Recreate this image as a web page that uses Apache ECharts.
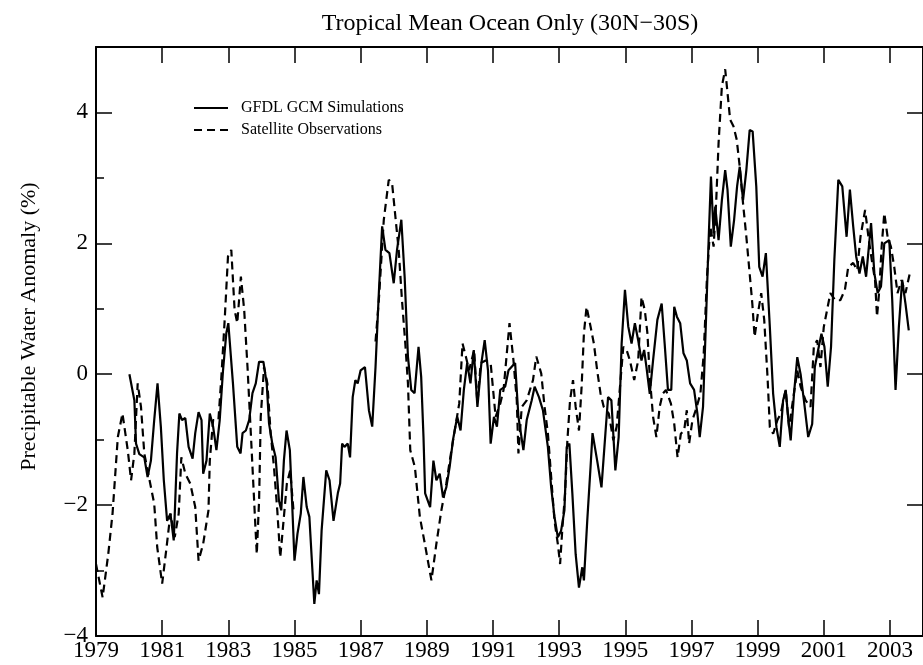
<!DOCTYPE html>
<html>
<head>
<meta charset="utf-8">
<script src="https://cdn.jsdelivr.net/npm/echarts@6/dist/echarts.min.js"></script>
<style>
html,body{margin:0;padding:0;background:#fff;}
#chart{width:923px;height:665px;}
</style>
</head>
<body>
<div id="chart"></div>
<script>
// Tick labels
var xTickYears = [1979,1981,1983,1985,1987,1989,1991,1993,1995,1997,1999,2001,2003];
var yTickValues = [-4,-2,0,2,4];
var seriesNames = ['GFDL GCM Simulations','Satellite Observations'];

// GFDL GCM Simulations (solid)
var simYears = [1980.01,1980.16,1980.21,1980.31,1980.46,1980.56,1980.66,1980.76,1980.86,1980.96,
1981.05,1981.15,1981.25,1981.35,1981.45,1981.52,1981.6,1981.7,1981.8,1981.92,
1982.0,1982.1,1982.19,1982.24,1982.34,1982.44,1982.54,1982.64,1982.74,1982.84,1982.94,
1983.0,1983.14,1983.27,1983.37,1983.43,1983.53,1983.63,1983.73,1983.83,1983.93,
1984.06,1984.16,1984.23,1984.33,1984.43,1984.53,1984.6,1984.68,1984.76,1984.86,1984.93,
1985.0,1985.09,1985.19,1985.27,1985.37,1985.45,1985.52,1985.6,1985.67,1985.74,1985.82,1985.96,
1986.06,1986.18,1986.31,1986.38,1986.44,1986.51,1986.61,1986.68,1986.76,1986.84,1986.91,
1987.0,1987.13,1987.25,1987.35,1987.45,1987.55,1987.65,1987.75,1987.87,
1988.0,1988.1,1988.23,1988.33,1988.43,1988.53,1988.63,1988.75,1988.83,1988.9,1988.95,
1989.1,1989.2,1989.29,1989.39,1989.49,1989.59,1989.69,1989.79,1989.92,
1990.02,1990.12,1990.22,1990.32,1990.42,1990.53,1990.65,1990.75,1990.85,1990.93,
1991.03,1991.12,1991.22,1991.37,1991.47,1991.67,1991.77,1991.92,
1992.02,1992.17,1992.26,1992.39,1992.51,1992.66,1992.76,1992.86,1992.96,
1993.06,1993.16,1993.23,1993.31,1993.4,1993.5,1993.6,1993.7,1993.75,1993.85,1993.95,
1994.01,1994.15,1994.28,1994.4,1994.48,1994.58,1994.7,1994.8,1994.89,1994.99,
1995.09,1995.19,1995.29,1995.39,1995.49,1995.57,1995.64,1995.74,1995.84,1995.97,
1996.1,1996.19,1996.29,1996.39,1996.48,1996.56,1996.66,1996.76,1996.86,1996.96,
1997.08,1997.18,1997.25,1997.35,1997.45,1997.52,1997.59,1997.67,1997.72,1997.82,1997.92,
1998.02,1998.09,1998.19,1998.29,1998.38,1998.46,1998.56,1998.66,1998.76,1998.85,1998.96,
1999.05,1999.15,1999.25,1999.37,1999.47,1999.57,1999.67,1999.77,1999.85,1999.93,
2000.0,2000.1,2000.2,2000.3,2000.4,2000.53,2000.65,2000.73,2000.83,2000.93,
2001.02,2001.12,2001.22,2001.32,2001.44,2001.56,2001.69,2001.79,2001.89,2001.98,
2002.08,2002.18,2002.28,2002.43,2002.53,2002.63,2002.73,2002.83,2002.98,
2003.07,2003.17,2003.27,2003.37,2003.47,2003.57];
var simValues = [0.0,-0.4,-1.06,-1.22,-1.27,-1.57,-1.32,-0.7,-0.14,-0.8,
-1.62,-2.24,-2.13,-2.54,-1.21,-0.6,-0.7,-0.67,-1.11,-1.29,
-0.9,-0.58,-0.7,-1.52,-1.32,-0.6,-0.8,-1.16,-0.7,0.06,0.63,
0.78,-0.14,-1.11,-1.21,-0.9,-0.86,-0.7,-0.29,-0.14,0.19,
0.19,-0.14,-0.75,-1.06,-1.27,-1.93,-2.08,-1.32,-0.86,-1.16,-1.98,
-2.85,-2.44,-2.13,-1.57,-2.03,-2.18,-2.8,-3.51,-3.15,-3.36,-2.39,-1.47,
-1.62,-2.24,-1.82,-1.67,-1.06,-1.11,-1.06,-1.27,-0.35,-0.09,-0.14,
0.06,0.11,-0.55,-0.8,0.11,1.24,2.26,1.9,1.85,
1.39,1.9,2.36,1.49,0.27,-0.24,-0.29,0.42,-0.04,-0.96,-1.82,
-2.03,-1.32,-1.62,-1.52,-1.88,-1.73,-1.42,-1.01,-0.65,
-0.86,-0.24,0.17,-0.14,0.37,-0.5,0.17,0.52,0.06,-1.06,
-0.65,-0.8,-0.24,-0.19,0.06,0.17,-0.65,-1.16,
-0.7,-0.4,-0.19,-0.35,-0.55,-1.11,-1.73,-2.18,-2.49,
-2.39,-2.08,-1.11,-1.06,-1.82,-2.75,-3.26,-2.95,-3.15,-2.24,-1.42,
-0.9,-1.32,-1.73,-0.9,-0.35,-0.4,-1.47,-0.96,0.47,1.29,
0.73,0.47,0.78,0.52,0.21,0.37,0.11,-0.3,0.21,0.83,
1.08,0.47,-0.24,-0.24,1.03,0.88,0.78,0.32,0.21,-0.14,
-0.24,-0.6,-0.96,-0.5,0.98,2.05,3.02,2.15,2.56,2.05,2.66,
3.12,2.82,1.95,2.36,2.87,3.17,2.66,3.12,3.73,3.71,2.87,
1.64,1.49,1.85,0.72,-0.3,-0.81,-1.11,-0.4,-0.24,-0.7,
-1.01,-0.3,0.26,0.0,-0.4,-0.96,-0.76,0.11,0.37,0.62,
0.42,-0.19,0.42,1.75,2.97,2.87,2.1,2.82,2.26,1.8,
1.54,1.8,1.49,2.31,1.54,1.24,1.34,2.0,2.05,
1.13,-0.24,0.72,1.44,1.08,0.67];

// Satellite Observations (dashed); null marks the gap in the record
var obsYears = [1979.0,1979.2,1979.37,1979.5,1979.66,1979.8,1979.96,
1980.06,1980.16,1980.26,1980.36,1980.46,1980.6,1980.76,1980.85,
1981.0,1981.12,1981.25,1981.38,1981.5,1981.58,1981.7,1981.85,
1982.0,1982.1,1982.24,1982.4,1982.44,1982.54,1982.7,1982.79,1982.89,1982.99,
1983.09,1983.19,1983.27,1983.38,1983.48,1983.58,1983.68,1983.78,1983.86,1983.93,1983.98,
1984.08,1984.18,1984.28,1984.38,1984.48,1984.57,1984.68,1984.77,1984.87,1984.97,
1986.2,
1987.45,1987.55,1987.7,1987.85,1987.95,
1988.05,1988.15,1988.25,1988.35,1988.43,1988.5,1988.64,1988.79,1988.94,
1989.14,1989.29,1989.44,1989.59,1989.71,1989.83,1989.98,
1990.08,1990.18,1990.28,1990.43,1990.53,1990.63,1990.78,1990.93,
1991.08,1991.22,1991.32,1991.5,1991.62,1991.72,1991.77,1991.87,
1992.02,1992.21,1992.31,1992.46,1992.56,1992.66,1992.76,1992.86,1992.96,
1993.03,1993.1,1993.18,1993.25,1993.33,1993.42,1993.5,1993.6,1993.68,1993.75,1993.83,1993.95,
1994.05,1994.15,1994.25,1994.35,1994.5,1994.64,1994.74,1994.84,1994.94,
1995.04,1995.14,1995.27,1995.39,1995.49,1995.59,1995.67,1995.74,1995.84,1995.94,
1996.04,1996.13,1996.23,1996.38,1996.48,1996.58,1996.68,1996.78,1996.86,1996.93,
1997.03,1997.13,1997.27,1997.37,1997.47,1997.57,1997.67,1997.75,1997.82,1997.92,
1998.02,1998.09,1998.17,1998.27,1998.37,1998.46,1998.56,1998.66,1998.76,1998.84,1998.91,
1999.01,1999.11,1999.2,1999.3,1999.37,1999.47,1999.6,1999.7,1999.85,1999.95,
2000.2,2000.3,2000.45,2000.6,2000.7,2000.8,2000.9,
2001.0,2001.1,2001.2,2001.35,2001.5,2001.64,2001.74,2001.89,
2002.01,2002.11,2002.25,2002.35,2002.45,2002.55,2002.61,2002.68,2002.75,2002.83,2002.93,
2003.03,2003.13,2003.23,2003.35,2003.47,2003.6];
var obsValues = [-2.9,-3.41,-2.75,-2.13,-0.96,-0.6,-1.16,
-1.62,-1.21,-0.14,-0.5,-1.21,-1.57,-1.98,-2.64,
-3.2,-2.7,-2.13,-2.49,-2.13,-1.27,-1.52,-1.67,
-2.03,-2.85,-2.59,-2.08,-1.32,-0.7,-0.7,-0.04,0.83,1.8,
1.9,0.98,0.78,1.49,0.98,0.11,-0.9,-1.93,-2.75,-1.93,-0.65,
0.11,-0.14,-0.9,-1.42,-2.08,-2.8,-2.18,-1.67,-1.47,-2.08,
null,
0.5,1.13,2.36,2.97,2.92,
2.41,1.9,1.13,0.47,-0.14,-1.16,-1.42,-2.18,-2.59,
-3.15,-2.59,-2.08,-1.67,-1.27,-0.9,-0.45,
0.47,0.27,0.06,0.37,-0.45,0.17,0.21,0.17,
-0.65,-0.45,-0.24,0.78,0.21,-0.4,-1.21,-0.5,
-0.4,-0.09,0.27,0.01,-0.5,-0.9,-1.57,-2.24,-2.59,
-2.9,-2.34,-1.82,-1.01,-0.4,-0.09,-0.5,-0.86,-0.19,0.63,1.03,0.73,
0.47,0.06,-0.29,-0.5,-0.6,-1.01,-0.8,-0.19,0.42,
0.37,0.21,-0.09,0.21,1.18,0.98,0.62,-0.04,-0.65,-0.96,
-0.5,-0.3,-0.24,-0.45,-0.76,-1.27,-0.91,-0.86,-0.55,-1.06,
-0.7,-0.55,-0.3,0.3,1.49,2.26,1.95,2.66,3.53,4.4,
4.66,4.3,3.89,3.79,3.58,3.17,2.61,2.1,1.54,1.08,0.57,
0.93,1.24,0.83,-0.04,-0.81,-0.91,-0.7,-0.6,-0.24,-0.81,
0.06,-0.19,-0.4,-0.5,0.42,0.52,0.11,
0.72,0.98,1.24,1.13,1.13,1.29,1.64,1.7,
1.59,2.1,2.51,2.1,1.75,1.44,0.88,1.29,1.95,2.46,2.1,
1.95,1.64,1.24,1.44,1.24,1.54];

function pairs(xs, ys){ return xs.map(function(x,i){ return [x, ys[i]]; }); }

var FONT = 'Liberation Serif';
var chart = echarts.init(document.getElementById('chart'), null, {renderer:'canvas'});
var xMin = 1979, xMax = 2004;
function xLabel(v){ return xTickYears.indexOf(v) >= 0 ? String(v) : ''; }
function yLabel(v){ return yTickValues.indexOf(v) >= 0 ? String(v).replace('-', '\u2212') : ''; }
var lineStyleAxis = {color:'#000', width:2};
var tickStyle = {color:'#000', width:1.5};

chart.setOption({
  animation:false,
  backgroundColor:'#fff',
  title:{
    text:'Tropical Mean Ocean Only (30N\u221230S)',
    left:505, top:7, textAlign:'center',
    textStyle:{fontFamily:FONT, fontSize:24, fontWeight:'normal', color:'#000'}
  },
  legend:{
    orient:'vertical', left:188, top:95,
    itemWidth:34, itemHeight:14, itemGap:6,
    itemStyle:{opacity:0},
    data:seriesNames,
    textStyle:{fontFamily:FONT, fontSize:16, color:'#000', padding:[0,0,0,8]}
  },
  grid:{left:96, right:-12, top:47, bottom:29, containLabel:false},
  xAxis:[
    {type:'value', min:xMin, max:xMax, interval:2, position:'bottom',
     axisLine:{show:true, lineStyle:lineStyleAxis, onZero:false},
     axisTick:{show:true, inside:true, length:16, lineStyle:tickStyle},
     axisLabel:{formatter:xLabel, fontFamily:FONT, fontSize:23, color:'#000', margin:3, showMaxLabel:false},
     splitLine:{show:false}},
    {type:'value', min:xMin, max:xMax, interval:2, position:'top',
     axisLine:{show:true, lineStyle:lineStyleAxis, onZero:false},
     axisTick:{show:true, inside:true, length:16, lineStyle:tickStyle},
     axisLabel:{show:false}, splitLine:{show:false}}
  ],
  yAxis:[
    {type:'value', min:-4, max:5, interval:2, position:'left',
     name:'Precipitable Water Anomaly (%)', nameLocation:'middle', nameGap:56,
     nameTextStyle:{fontFamily:FONT, fontSize:22, color:'#000', padding:[0,0,0,30]},
     axisLine:{show:true, lineStyle:lineStyleAxis, onZero:false},
     axisTick:{show:true, inside:true, length:16, lineStyle:tickStyle},
     axisLabel:{formatter:yLabel, fontFamily:FONT, fontSize:23, color:'#000', margin:8},
     splitLine:{show:false}},
    {type:'value', min:-4, max:5, interval:1, position:'left',
     axisLine:{show:false},
     axisTick:{show:true, inside:true, length:8, lineStyle:tickStyle},
     axisLabel:{show:false}, splitLine:{show:false}},
    {type:'value', min:-4, max:5, interval:2, position:'right',
     axisLine:{show:true, lineStyle:lineStyleAxis, onZero:false},
     axisTick:{show:true, inside:true, length:16, lineStyle:tickStyle},
     axisLabel:{show:false}, splitLine:{show:false}}
  ],
  series:[
    {name:seriesNames[0], type:'line', xAxisIndex:0, yAxisIndex:0,
     data:pairs(simYears, simValues), symbol:'none', showSymbol:false,
     lineStyle:{color:'#000', width:2.2, type:'solid'}, itemStyle:{color:'#000'},
     connectNulls:false, z:3},
    {name:seriesNames[1], type:'line', xAxisIndex:0, yAxisIndex:0,
     data:pairs(obsYears, obsValues), symbol:'none', showSymbol:false,
     lineStyle:{color:'#000', width:2.2, type:[8,5]}, itemStyle:{color:'#000'},
     connectNulls:false, z:2}
  ]
});
</script>
</body>
</html>
